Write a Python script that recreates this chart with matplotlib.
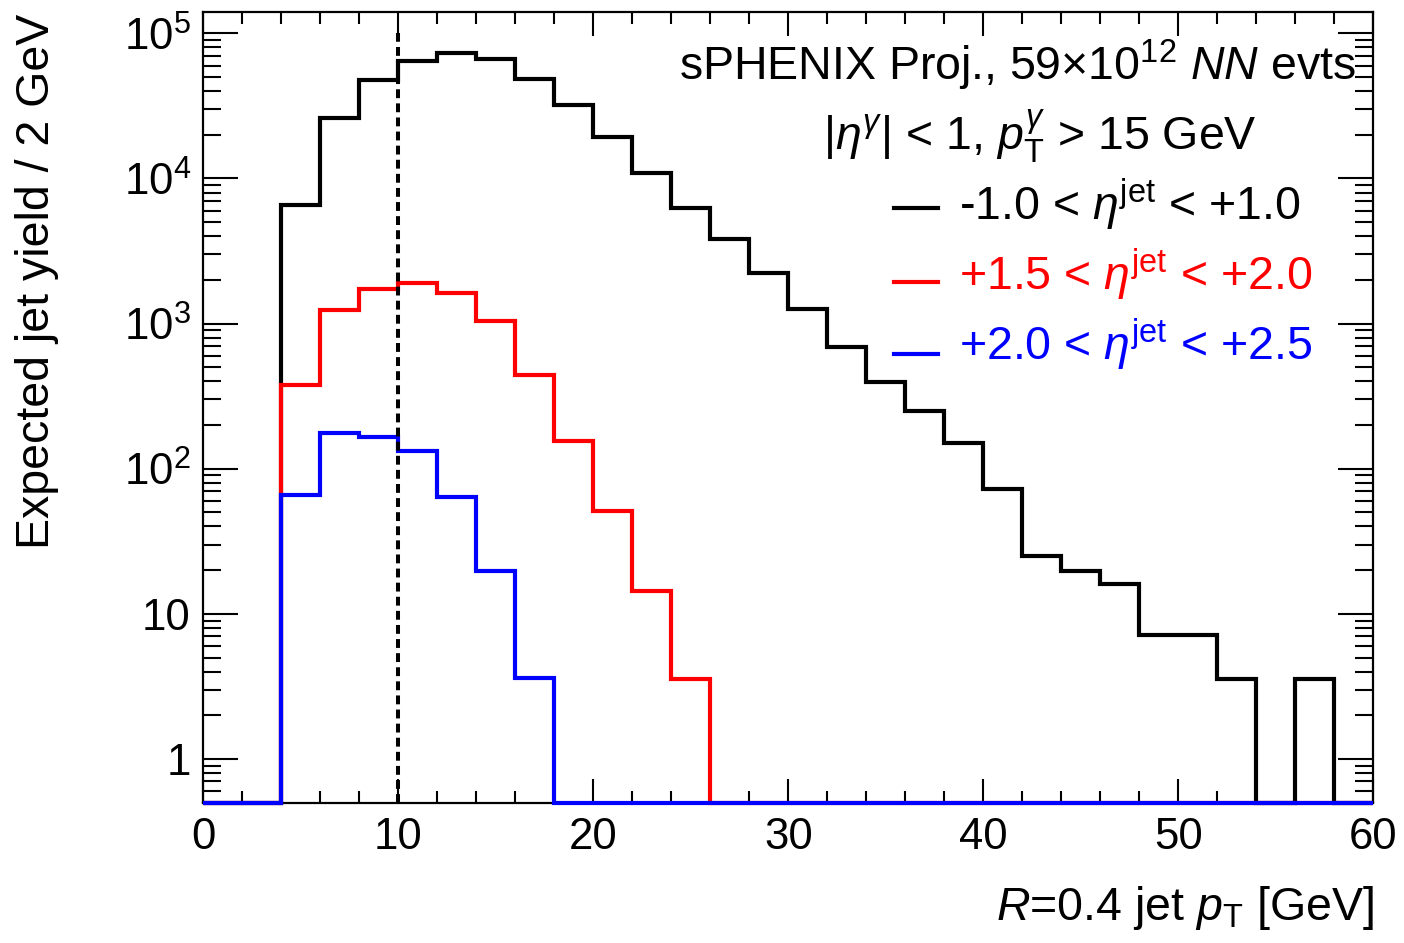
import matplotlib

matplotlib.use("Agg")
import matplotlib.pyplot as plt
import numpy as np
from matplotlib.ticker import FixedLocator, MultipleLocator, NullFormatter

plt.rcParams["font.family"] = "Liberation Sans"
plt.rcParams["mathtext.fontset"] = "custom"
plt.rcParams["mathtext.rm"] = "Liberation Sans"
plt.rcParams["mathtext.it"] = "Liberation Sans:italic"
plt.rcParams["mathtext.bf"] = "Liberation Sans:bold"

# 2 GeV bins from 0 to 60 GeV
bin_edges = list(range(0, 62, 2))

# expected jet yield per bin
yield_mid = [0, 0, 6540, 25900, 47400, 65000, 73400, 66800, 48600, 31900,
             19300, 10960, 6300, 3850, 2230, 1265, 685, 397, 251, 151,
             72.6, 24.9, 19.7, 16.1, 7.18, 7.18, 3.58, 0, 3.58, 0]
yield_fwd = [0, 0, 377, 1239, 1718, 1910, 1630, 1045, 444, 156,
             51, 14.4, 3.58, 0, 0, 0, 0, 0, 0, 0,
             0, 0, 0, 0, 0, 0, 0, 0, 0, 0]
yield_vfwd = [0, 0, 66, 176, 165, 132, 63.6, 19.7, 3.61, 0,
              0, 0, 0, 0, 0, 0, 0, 0, 0, 0,
              0, 0, 0, 0, 0, 0, 0, 0, 0, 0]

labels = [r"-1.0 < $\eta^{\mathrm{jet}}$ < +1.0",
          r"+1.5 < $\eta^{\mathrm{jet}}$ < +2.0",
          r"+2.0 < $\eta^{\mathrm{jet}}$ < +2.5"]
colors = ["black", "#ff0000", "#0000ff"]

YMIN, YMAX = 0.5, 1.41e5
FS = 33.5

fig = plt.figure(figsize=(14.04, 9.43), dpi=100)
ax = fig.add_axes([0.1448, 0.1488, 0.8333, 0.8388])

# empty bins sit on the frame like ROOT draws them
for vals, col in zip([yield_mid, yield_fwd, yield_vfwd], colors):
    ax.stairs(np.maximum(vals, YMIN), bin_edges, baseline=None,
              color=col, lw=3, clip_on=False, zorder=3)

# photon pT cut reference line
ax.plot([10, 10], [YMIN, 1e5], color="black", lw=2.9,
        ls=(0, (2.2, 1.3)), zorder=4)

ax.set_xlim(0, 60)
ax.set_yscale("log")
ax.set_ylim(YMIN, YMAX)

ax.xaxis.set_major_locator(MultipleLocator(10))
ax.xaxis.set_minor_locator(MultipleLocator(2))
ax.yaxis.set_major_locator(FixedLocator([1, 10, 100, 1e3, 1e4, 1e5]))
ax.set_yticklabels(["1", "10", r"$10^{2}$", r"$10^{3}$", r"$10^{4}$", r"$10^{5}$"])
minors = [m * 10.0 ** d for d in range(-1, 6) for m in range(2, 10)]
ax.yaxis.set_minor_locator(FixedLocator(minors))
ax.yaxis.set_minor_formatter(NullFormatter())

ax.tick_params(axis="both", which="both", direction="in", top=True, right=True,
               width=1.5, labelsize=31.5)
ax.tick_params(axis="x", which="major", length=17, pad=10)
ax.tick_params(axis="x", which="minor", length=8.5)
ax.tick_params(axis="y", which="major", length=25, pad=9)
ax.tick_params(axis="y", which="minor", length=13)
for sp in ax.spines.values():
    sp.set_linewidth(1.6)

fig.text(15 / 1404, 1 - 14 / 943, "Expected jet yield / 2 GeV", rotation=90,
         ha="left", va="top", fontsize=FS)
fig.text(1374 / 1404, 1 - 920 / 943, r"$R$=0.4 jet $p_{\mathrm{T}}$ [GeV]",
         ha="right", va="baseline", fontsize=FS)

ax.text(0.985, 0.9134, r"sPHENIX Proj., 59$\times$10$^{12}$ $NN$ evts",
        transform=ax.transAxes, ha="right", va="baseline", fontsize=FS)
ax.text(0.9003, 0.8252, r"$|\eta^{\gamma}|$ < 1, $p_{\mathrm{T}}^{\gamma}$ > 15 GeV",
        transform=ax.transAxes, ha="right", va="baseline", fontsize=FS)

line_y = [0.7518, 0.6583, 0.5673]
text_y = [0.7367, 0.6482, 0.5597]
for lab, col, ly, ty in zip(labels, colors, line_y, text_y):
    ax.plot([0.5907, 0.6282], [ly, ly], color=col, lw=3, transform=ax.transAxes)
    ax.text(0.6463, ty, lab, color=col, transform=ax.transAxes,
            ha="left", va="baseline", fontsize=FS)

fig.savefig("out.png", dpi=100)
plt.close(fig)
